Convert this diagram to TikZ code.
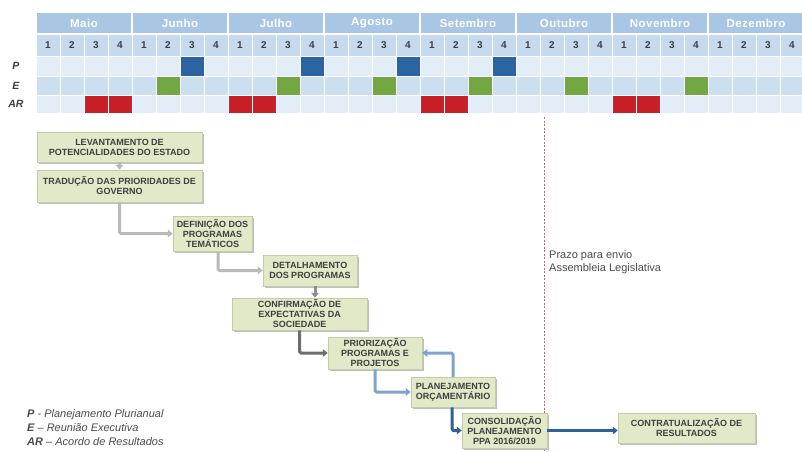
\documentclass[tikz,border=0pt]{standalone}
\usepackage{fontspec}
\setmainfont{Liberation Sans}
\usetikzlibrary{arrows.meta,shadows}
\definecolor{hdr}{HTML}{A9C6E4}
\definecolor{wkrow}{HTML}{C6DAEF}
\definecolor{lightrow}{HTML}{E3EDF8}
\definecolor{midrow}{HTML}{CCDFF1}
\definecolor{pblue}{HTML}{2B64A0}
\definecolor{egreen}{HTML}{72A743}
\definecolor{arred}{HTML}{C81E28}
\definecolor{boxfill}{HTML}{E2E9C9}
\definecolor{boxborder}{HTML}{C5CDA8}
\definecolor{boxtext}{HTML}{3E3E3E}
\definecolor{gray1}{HTML}{B9B9B9}
\definecolor{gray2}{HTML}{8E8E8E}
\definecolor{gray3}{HTML}{6E6E6E}
\definecolor{lblue}{HTML}{7EA3CF}
\definecolor{dblue}{HTML}{30609A}
\definecolor{deadline}{HTML}{C46A78}
\definecolor{legtext}{HTML}{4A4A4A}
\begin{document}
\begin{tikzpicture}[x=1pt,y=-1pt,
  monthtxt/.style={text=white,font=\bfseries\fontsize{11.5}{13}\selectfont\addfontfeature{LetterSpace=4}},
  wktxt/.style={text=boxtext,font=\bfseries\fontsize{10}{11}\selectfont},
  rowlbl/.style={text=boxtext,font=\bfseries\itshape\fontsize{10.5}{12}\selectfont},
  pbox/.style={draw=boxborder,line width=0.5pt,fill=boxfill,text=boxtext,
    font=\bfseries\fontsize{9}{10}\selectfont,align=center,inner sep=0pt,
    drop shadow={shadow xshift=1.6pt,shadow yshift=-1.6pt,fill=black,opacity=0.25}},
  conn/.style={line width=3pt,-{Triangle[width=7.5pt,length=5pt]},rounded corners=1.5pt},
  note/.style={text=legtext,font=\fontsize{11}{13}\selectfont,align=left,inner sep=0pt},
  legend/.style={text=legtext,font=\itshape\fontsize{11}{14}\selectfont,align=left,inner sep=0pt}
]
\useasboundingbox (0,0) rectangle (802,451);

% ---- month header ----
\foreach \m [count=\i from 0] in {Maio,Junho,Julho,Agosto,Setembro,Outubro,Novembro,Dezembro} {
  \fill[hdr] ({36+\i*96+0.75},13) rectangle ({36+(\i+1)*96-0.75},33);
  \node[monthtxt] at ({36+\i*96+48},23) {\m};
}
% ---- week row and data rows ----
\foreach \c in {0,...,31} {
  \pgfmathtruncatemacro\w{mod(\c,4)+1}
  \fill[wkrow] ({36+\c*24+0.5},35) rectangle ({36+(\c+1)*24-0.5},56);
  \node[wktxt] at ({36+\c*24+12},45.5) {\w};
  \fill[lightrow] ({36+\c*24+0.5},57) rectangle ({36+(\c+1)*24-0.5},75.5);
  \fill[midrow] ({36+\c*24+0.5},76.5) rectangle ({36+(\c+1)*24-0.5},94.5);
  \fill[lightrow] ({36+\c*24+0.5},95.5) rectangle ({36+(\c+1)*24-0.5},113);
}
\foreach \c in {7,12,16,20}
  \fill[pblue] ({36+(\c-1)*24+0.5},57) rectangle ({36+\c*24-0.5},75.5);
\foreach \c in {6,11,15,19,23,28}
  \fill[egreen] ({36+(\c-1)*24+0.5},76.5) rectangle ({36+\c*24-0.5},94.5);
\foreach \c in {3,4,9,10,17,18,25,26}
  \fill[arred] ({36+(\c-1)*24+0.5},95.5) rectangle ({36+\c*24-0.5},113);

\node[rowlbl] (lp) at (16,66) {P};
\node[rowlbl] (le) at (16,85.5) {E};
\node[rowlbl] (lar) at (16,104) {AR};

% ---- deadline ----
\coordinate (dtop) at (544,117);
\coordinate (dbot) at (544,451);
\draw[deadline,line width=0.9pt,dash pattern=on 2pt off 1.5pt] (dtop) -- (dbot);
\node[note,anchor=west] (prazo) at (549,262) {Prazo para envio\\Assembleia Legislativa};

% ---- process boxes ----
\node[pbox,minimum width=165pt,minimum height=30pt] (b1) at (119.5,147) {LEVANTAMENTO DE\\POTENCIALIDADES DO ESTADO};
\node[pbox,minimum width=165pt,minimum height=32pt] (b2) at (119.5,186) {TRADUÇÃO DAS PRIORIDADES DE\\GOVERNO};
\node[pbox,minimum width=79pt,minimum height=35pt] (b3) at (212.5,233.5) {DEFINIÇÃO DOS\\PROGRAMAS\\TEMÁTICOS};
\node[pbox,minimum width=94pt,minimum height=31pt] (b4) at (310,270.5) {DETALHAMENTO\\DOS PROGRAMAS};
\node[pbox,minimum width=135pt,minimum height=32pt] (b5) at (299.5,314) {CONFIRMAÇÃO DE\\EXPECTATIVAS DA\\SOCIEDADE};
\node[pbox,minimum width=94pt,minimum height=32pt] (b6) at (375,353) {PRIORIZAÇÃO\\PROGRAMAS E\\PROJETOS};
\node[pbox,minimum width=84pt,minimum height=30pt] (b7) at (453,392) {PLANEJAMENTO\\ORÇAMENTÁRIO};
\node[pbox,minimum width=85pt,minimum height=35pt] (b8) at (504.5,430.5) {CONSOLIDAÇÃO\\PLANEJAMENTO\\PPA 2016/2019};
\node[pbox,minimum width=137pt,minimum height=30pt] (b9) at (686.5,428) {CONTRATUALIZAÇÃO DE\\RESULTADOS};

% ---- connectors ----
\draw[conn,gray1] (b1.south) -- (b2.north);
\draw[conn,gray1] (b2.south) |- (b3.west);
\draw[conn,gray1] ([xshift=5.5pt]b3.south) |- (b4.west);
\draw[conn,gray2] ([xshift=5pt]b4.south) -- ([xshift=5pt]b4.south |- b5.north);
\draw[conn,gray3] (b5.south) |- (b6.west);
\draw[conn,lblue] (b6.south) |- (b7.west);
\draw[conn,lblue] (b7.north) |- (b6.east);
\draw[conn,dblue] ([xshift=-1pt]b7.south) |- (b8.west);
\draw[conn,dblue] (b8.east) -- (b8.east -| b9.west);

% ---- legend ----
\node[legend,anchor=north west] (leg) at (27,409.5) {\textbf{P} - Planejamento Plurianual\\\textbf{E} – Reunião Executiva\\\textbf{AR} – Acordo de Resultados};
\end{tikzpicture}
\end{document}
